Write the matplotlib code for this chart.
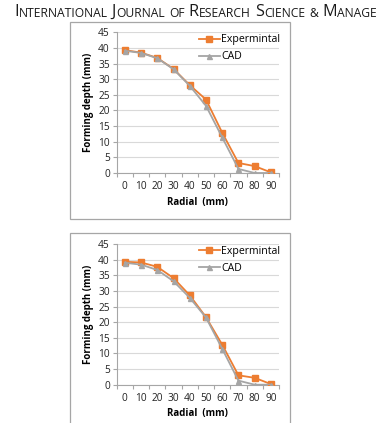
import matplotlib.pyplot as plt
import numpy as np
from matplotlib.patches import Rectangle

radial = ["0", "10", "20", "30", "40", "50", "60", "70", "80", "90"]

exp_top = [39.3, 38.5, 36.8, 33.3, 28.1, 23.5, 12.9, 3.2, 2.2, 0.2]
cad_top = [39.1, 38.4, 36.7, 33.2, 27.9, 21.5, 11.4, 1.3, 0.0, 0.0]

exp_bottom = [39.3, 39.1, 37.7, 34.1, 28.6, 21.6, 12.8, 3.0, 2.2, 0.2]
cad_bottom = [39.0, 38.4, 36.7, 33.1, 27.8, 21.5, 11.5, 1.3, 0.0, 0.0]

header_words = ["International", "Journal", "of", "Research", "Science", "&", "Manage"]

ORANGE = "#ED7D31"
GRAY = "#A5A5A5"
FONT = "Open Sans"

W, H = 382, 423
fig = plt.figure(figsize=(W / 100, H / 100), dpi=100)
fig.patch.set_facecolor("white")


def px_box(x0, y0, x1, y1):
    # pixel coords (top-left origin) -> figure fraction rect
    return [x0 / W, 1 - y1 / H, (x1 - x0) / W, (y1 - y0) / H]


# chart frames
for (x0, y0, x1, y1) in [(70, 22, 290, 219), (70, 233, 290, 430)]:
    r = px_box(x0, y0, x1, y1)
    fig.patches.append(Rectangle((r[0], r[1]), r[2], r[3], transform=fig.transFigure,
                                 fill=False, edgecolor="#A6A6A6", linewidth=0.9))


def draw_chart(rect, exp, cad):
    ax = fig.add_axes(px_box(*rect))
    ax.plot(radial, exp, color=ORANGE, lw=1.3, marker="s", ms=4.2, label="Expermintal", zorder=3)
    ax.plot(radial, cad, color=GRAY, lw=1.3, marker="^", ms=3.6, label="CAD", zorder=4)
    ax.set_xlim(-0.5, len(radial) - 0.5)
    ax.set_ylim(0, 45)
    ax.set_yticks(np.arange(0, 46, 5))
    ax.grid(axis="y", color="#D9D9D9", lw=0.8)
    ax.set_axisbelow(True)
    for s in ["top", "right"]:
        ax.spines[s].set_visible(False)
    for s in ["left", "bottom"]:
        ax.spines[s].set_color("#A6A6A6")
        ax.spines[s].set_linewidth(0.8)
    ax.set_xticks(np.arange(-0.5, len(radial)), minor=True)
    ax.tick_params(axis="x", which="major", length=0, pad=6)
    ax.tick_params(axis="x", which="minor", length=3, color="#A6A6A6", width=0.8)
    ax.tick_params(axis="y", length=3, color="#A6A6A6", width=0.8, pad=2)
    for lab in ax.get_xticklabels() + ax.get_yticklabels():
        lab.set_fontfamily(FONT)
        lab.set_fontsize(7.3)
        lab.set_color("#222222")
    ax.set_xlabel("Radial  (mm)", fontfamily=FONT, fontsize=7, fontweight="bold", labelpad=3)
    ax.set_ylabel("Forming depth (mm)", fontfamily=FONT, fontsize=7, fontweight="bold", labelpad=3)
    ax.legend(loc="upper right", bbox_to_anchor=(1.045, 1.03), frameon=False,
              prop={"family": FONT, "size": 7.6}, handlelength=2.0, handletextpad=0.1,
              labelspacing=0.55, borderaxespad=0.2)
    return ax


draw_chart((116.7, 32.3, 279, 173), exp_top, cad_top)
draw_chart((116.7, 244, 279, 384.7), exp_bottom, cad_bottom)

# journal header in small caps, chained piece by piece
BIG, SMALL = 11.7, 8.7
pieces = []
for word in header_words:
    if word[0].isupper():
        pieces.append((word[0], BIG, 3.0))
        pieces.append((word[1:].upper(), SMALL, 0))
    else:
        pieces.append((word.upper(), SMALL, 3.0))

prev = None
for txt, size, gap in pieces:
    if prev is None:
        prev = fig.text(14 / W, 1 - 16 / H, txt, fontsize=size, fontfamily=FONT,
                        color="#1a1a1a", va="baseline", ha="left")
    else:
        prev = plt.annotate(txt, xy=(1, 0), xycoords=prev, xytext=(gap, 0),
                            textcoords="offset points", fontsize=size, fontfamily=FONT,
                            color="#1a1a1a", va="bottom", ha="left", annotation_clip=False)

fig.savefig("out.png", dpi=100)
